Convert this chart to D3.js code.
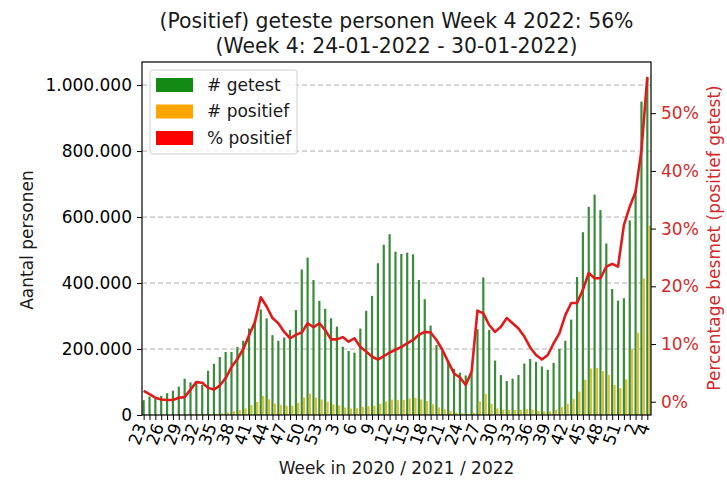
<!DOCTYPE html>
<html>
<head>
<meta charset="utf-8">
<script src="https://cdn.jsdelivr.net/npm/d3@7/dist/d3.min.js"></script>
<style>
body { margin: 0; background: #fff; }
svg { font-family: "DejaVu Sans", sans-serif; }
</style>
</head>
<body>
<div id="chart"></div>
<script>
// weeks 23-53 (2020), 1-52 (2021), 1-4 (2022)
var weeks = [23,24,25,26,27,28,29,30,31,32,33,34,35,36,37,38,39,40,41,42,43,44,45,46,47,48,49,50,51,52,53,
  1,2,3,4,5,6,7,8,9,10,11,12,13,14,15,16,17,18,19,20,21,22,23,24,25,26,27,28,29,30,31,32,33,34,35,36,37,38,39,40,41,42,43,44,45,46,47,48,49,50,51,52,
  1,2,3,4];

var getest = [45000,56000,50000,58000,66000,74000,86000,110000,99000,95000,91000,134000,155000,176000,191000,191000,206000,225000,262000,288000,320000,293000,
  242000,225000,235000,258000,318000,441000,477000,409000,346000,322000,293000,268000,207000,194000,189000,262000,316000,361000,460000,516000,548000,
  495000,488000,492000,487000,409000,351000,271000,212000,194000,164000,140000,128000,120000,
  128000,260000,417000,258000,165000,121000,103000,110000,121000,
  156000,170000,161000,147000,137000,158000,200000,225000,289000,418000,554000,631000,668000,621000,520000,382000,347000,354000,590000,683000,950000,1020000];

var positief = [1000,1000,400,200,200,200,600,900,2000,3000,3000,3000,3000,5000,8000,11000,15000,20000,30000,40000,58000,48000,
  35000,31000,28000,28000,37000,53000,65000,53000,47000,40000,32000,29000,23000,20000,21000,25000,27000,28000,34000,41000,47000,
  45000,46000,50000,52000,47000,42000,33000,23000,17000,11000,7000,5000,3500,
  7000,41000,64000,34000,20000,16000,15000,15000,16000,
  18000,16000,13000,11000,11000,16000,24000,34000,49000,71000,107000,141000,143000,133000,122000,91000,81000,108000,199000,249000,414000,574000];

var pctPositief = [1.9,1.3,0.7,0.4,0.3,0.3,0.7,0.8,2.1,3.4,3.3,2.4,2.1,2.8,4.1,6.0,7.4,9.1,11.5,13.8,18.1,16.5,
  14.5,13.6,12.1,11.0,11.6,12.0,13.6,12.9,13.6,12.4,10.8,10.8,11.2,10.4,11.0,9.5,8.7,7.8,7.3,7.9,8.5,
  9.0,9.5,10.1,10.7,11.6,12.1,12.0,10.7,9.0,6.9,4.9,4.2,2.9,
  5.2,15.8,15.3,13.3,12.1,13.0,14.5,13.6,12.7,
  11.3,9.4,8.1,7.3,8.1,10.1,11.9,15.0,17.1,17.1,19.4,22.3,21.4,21.4,23.4,23.9,23.4,30.6,33.8,36.4,43.6,56.3];

var leftTicks = [0, 200000, 400000, 600000, 800000, 1000000];
var rightTicks = [0, 10, 20, 30, 40, 50];
var legendItems = [
  { label: "# getest", color: "#138a13" },
  { label: "# positief", color: "#ffa500" },
  { label: "% positief", color: "#ff0000" }
];
var titel1 = "(Positief) geteste personen Week 4 2022: 56%";
var titel2 = "(Week 4: 24-01-2022 - 30-01-2022)";

var W = 727, H = 481;
var mrg = { top: 62, right: 76, bottom: 66, left: 142 };
var pw = W - mrg.left - mrg.right, ph = H - mrg.top - mrg.bottom;

var svg = d3.select("#chart").append("svg")
  .attr("width", W).attr("height", H);

var chart = svg.append("g")
  .attr("transform", `translate(${mrg.left}, ${mrg.top})`);

var idx = d3.range(weeks.length);
var xScale = d3.scaleLinear().domain([-0.28, 86.63]).range([0, pw]);
var yScale = d3.scaleLinear().domain([0, 1070000]).range([ph, 0]);
var yPct = d3.scaleLinear().domain([-2.3, 58.87]).range([ph, 0]);

// grid
chart.append("g").selectAll("line")
  .data(leftTicks.slice(1))
  .enter().append("line")
  .attr("x1", 0).attr("x2", pw)
  .attr("y1", d => yScale(d)).attr("y2", d => yScale(d))
  .attr("stroke", "#b0b0b0").attr("stroke-width", 1)
  .attr("stroke-dasharray", "5,3");

// bars
chart.append("g").selectAll("rect")
  .data(idx).enter().append("rect")
  .attr("x", i => xScale(i) - 1.1)
  .attr("width", 2.2)
  .attr("y", i => yScale(getest[i]))
  .attr("height", i => ph - yScale(getest[i]))
  .attr("fill", "#3a8c3a");

chart.append("g").selectAll("rect")
  .data(idx).enter().append("rect")
  .attr("x", i => xScale(i) + 1.1)
  .attr("width", 2.4)
  .attr("y", i => yScale(positief[i]))
  .attr("height", i => ph - yScale(positief[i]))
  .attr("fill", "#d4c23e");

// line
chart.append("path")
  .datum(idx)
  .attr("fill", "none")
  .attr("stroke", "#e01b1b")
  .attr("stroke-width", 2.6)
  .attr("stroke-linejoin", "round")
  .attr("d", d3.line().x(i => xScale(i)).y(i => yPct(pctPositief[i])));

// axes
var fmt = d3.formatLocale({ decimal: ",", thousands: ".", grouping: [3], currency: ["€", ""] }).format(",d");
var y_axis = d3.axisLeft(yScale).tickValues(leftTicks).tickFormat(fmt).tickSize(5).tickPadding(5);
chart.append("g").attr("class", "yAxis").call(y_axis);

var yr_axis = d3.axisRight(yPct).tickValues(rightTicks).tickFormat(d => d + "%").tickSize(5).tickPadding(5);
chart.append("g").attr("class", "yrAxis")
  .attr("transform", `translate(${pw}, 0)`)
  .call(yr_axis);

var x_axis = d3.axisBottom(xScale).tickValues(idx).tickSize(5)
  .tickFormat(i => (i % 3 === 0 || i === weeks.length - 1) ? weeks[i] : "");
var gx = chart.append("g").attr("class", "xAxis")
  .attr("transform", `translate(0, ${ph})`)
  .call(x_axis);
gx.selectAll("text")
  .attr("x", 0).attr("y", 0)
  .attr("text-anchor", "end")
  .attr("dy", "0.35em")
  .attr("transform", "translate(-3, 9) rotate(-70)");

chart.selectAll(".domain").remove();
chart.selectAll(".tick line").attr("stroke", "#000").attr("stroke-width", 1);
chart.selectAll(".tick text").attr("font-size", 17).attr("fill", "#000")
  .attr("font-family", "DejaVu Sans");
chart.selectAll(".yrAxis .tick text").attr("fill", "#d42a2a");

// frame
chart.append("rect")
  .attr("x", 0).attr("y", 0).attr("width", pw).attr("height", ph)
  .attr("fill", "none").attr("stroke", "#000").attr("stroke-width", 1.2);

// legend
var lg = chart.append("g").attr("transform", "translate(8, 8)");
lg.append("rect")
  .attr("width", 147).attr("height", 84).attr("rx", 3)
  .attr("fill", "#fff").attr("fill-opacity", 0.8)
  .attr("stroke", "#d0d0d0");
var li = lg.selectAll(".li").data(legendItems).enter().append("g")
  .attr("transform", (d, i) => `translate(6, ${8 + i * 26.5})`);
li.append("rect").attr("width", 37).attr("height", 14).attr("fill", d => d.color);
li.append("text").attr("x", 51).attr("y", 7).attr("dy", "0.35em")
  .attr("font-size", 17).attr("fill", "#1a1a1a").text(d => d.label);

// titles and labels
svg.append("text").attr("x", mrg.left + pw / 2).attr("y", 28)
  .attr("text-anchor", "middle").attr("font-size", 20.4).attr("fill", "#1a1a1a").text(titel1);
svg.append("text").attr("x", mrg.left + pw / 2).attr("y", 53)
  .attr("text-anchor", "middle").attr("font-size", 20.4).attr("fill", "#1a1a1a").text(titel2);

svg.append("text")
  .attr("transform", `translate(${mrg.left + pw / 2}, 474)`)
  .attr("text-anchor", "middle").attr("font-size", 17).attr("fill", "#1a1a1a")
  .text("Week in 2020 / 2021 / 2022");

svg.append("text")
  .attr("transform", "translate(33, 240) rotate(-90)")
  .attr("text-anchor", "middle").attr("font-size", 17).attr("fill", "#1a1a1a")
  .text("Aantal personen");

svg.append("text")
  .attr("transform", "translate(720, 238) rotate(-90)")
  .attr("text-anchor", "middle").attr("font-size", 17).attr("fill", "#d42a2a")
  .text("Percentage besmet (positief getest)");
</script>
</body>
</html>
